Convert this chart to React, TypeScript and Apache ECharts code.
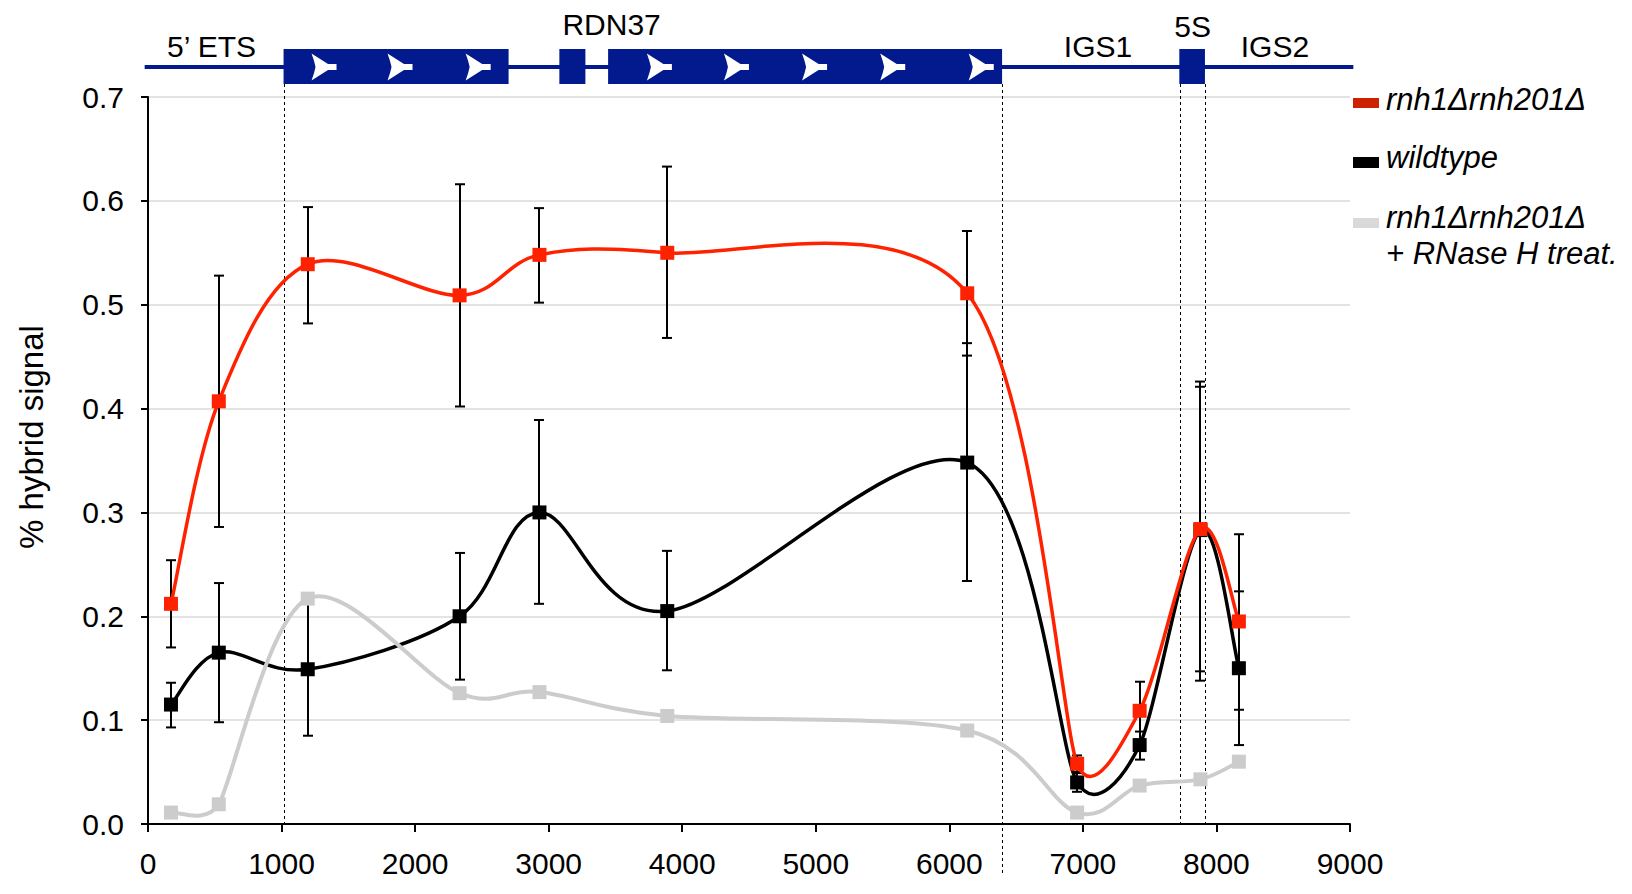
import React, { useEffect, useRef } from 'react';
import * as echarts from 'echarts';

// ---------- data ----------
const positions = [172, 530, 1196, 2333, 2931, 3888, 6134, 6957, 7425, 7880, 8168];

const mutant = [0.212, 0.407, 0.539, 0.509, 0.548, 0.550, 0.511, 0.058, 0.109, 0.284, 0.195];
const mutantLow = [0.170, 0.286, 0.482, 0.402, 0.502, 0.468, 0.451, 0.050, 0.081, 0.147, 0.110];
const mutantHigh = [0.254, 0.528, 0.594, 0.616, 0.593, 0.633, 0.571, 0.066, 0.137, 0.421, 0.224];

const wildtype = [0.115, 0.165, 0.149, 0.200, 0.300, 0.205, 0.348, 0.040, 0.076, 0.283, 0.150];
const wildtypeLow = [0.093, 0.098, 0.085, 0.139, 0.212, 0.148, 0.234, 0.031, 0.062, 0.138, 0.076];
const wildtypeHigh = [0.136, 0.232, 0.213, 0.261, 0.389, 0.263, 0.463, 0.049, 0.089, 0.426, 0.279];

const rnaseTreated = [0.011, 0.019, 0.217, 0.126, 0.127, 0.104, 0.090, 0.011, 0.037, 0.043, 0.060];

const seriesNames = ['rnh1Δrnh201Δ', 'wildtype', 'rnh1Δrnh201Δ', '+ RNase H treat.'];

const xTicks = { min: 0, max: 9000, interval: 1000 };
const yTicks = { min: 0, max: 0.7, interval: 0.1 };

// gene map (bp coordinates)
const backboneRange = [-25, 9025];
const geneBoxes = [
  [1015, 2700],
  [3080, 3275],
  [3445, 6395],
  [7722, 7914],
];
const arrowPositions = [1318, 1887, 2472, 3829, 4406, 4991, 5576, 6239];
const featureLabels = ['5’ ETS', 'RDN37', 'IGS1', '5S', 'IGS2'];
const featureLabelX = [476, 3471, 7113, 7822, 8438];
const boundaryX = [1015, 6395, 7725, 7912];

// ---------- styles ----------
const FONT = '"Liberation Sans", Arial, Helvetica, sans-serif';
const BLUE = '#021a8e';
const RED = '#ff2200';
const GRAY = '#cccccc';
const labelOffsets = [-51, -73, -51, -71, -51];
const boundaryExtend = [0, 50, 0, 0];
const arrowShape = [
  [-12.5, -13.5],
  [4, -3],
  [12.5, -3],
  [12.5, 3],
  [4, 3],
  [-12.5, 13.5],
  [-10, 6],
  [-8.5, 0],
  [-10, -6],
];

const toPairs = (ys: number[]) => positions.map((x, i) => [x, ys[i]]);
const toBars = (lo: number[], hi: number[]) => positions.map((x, i) => [x, lo[i], hi[i]]);

const errorBarRender = (params: any, api: any) => {
  const x = api.value(0);
  const lo = api.coord([x, api.value(1)]);
  const hi = api.coord([x, api.value(2)]);
  const cx = Math.round(lo[0]);
  const cap = 5;
  const st = { stroke: '#000', lineWidth: 2 };
  return {
    type: 'group',
    children: [
      { type: 'line', shape: { x1: cx, y1: lo[1], x2: cx, y2: hi[1] }, style: st },
      { type: 'line', shape: { x1: cx - cap, y1: lo[1], x2: cx + cap, y2: lo[1] }, style: st },
      { type: 'line', shape: { x1: cx - cap, y1: hi[1], x2: cx + cap, y2: hi[1] }, style: st },
    ],
  };
};

const dist = (a: number[], b: number[]) => Math.hypot(a[0] - b[0], a[1] - b[1]);

// spreadsheet-style smoothed segment, drawn through the axis scales
const makeSmoothRender = (ys: number[], color: string, width: number) => (params: any, api: any) => {
  const i = params.dataIndex;
  const n = positions.length;
  if (i >= n - 1) return null;
  const pts = positions.map((x, k) => api.coord([x, ys[k]]));
  const tangent = (k: number) => {
    const a = pts[Math.max(0, k - 1)];
    const b = pts[Math.min(n - 1, k + 1)];
    const d02 = dist(a, b);
    if (d02 === 0) return [0, 0];
    let f = 1 / 6;
    if (k > 0) f = Math.min(f, dist(pts[k - 1], pts[k]) / (2 * d02));
    if (k < n - 1) f = Math.min(f, dist(pts[k], pts[k + 1]) / (2 * d02));
    return [(b[0] - a[0]) * f, (b[1] - a[1]) * f];
  };
  const p1 = pts[i];
  const p2 = pts[i + 1];
  const t1 = tangent(i);
  const t2 = tangent(i + 1);
  return {
    type: 'bezierCurve',
    shape: {
      x1: p1[0],
      y1: p1[1],
      cpx1: p1[0] + t1[0],
      cpy1: p1[1] + t1[1],
      cpx2: p2[0] - t2[0],
      cpy2: p2[1] - t2[1],
      x2: p2[0],
      y2: p2[1],
    },
    style: { stroke: color, lineWidth: width, fill: 'none', lineCap: 'round' },
  };
};

const geneMapRender = (params: any, api: any) => {
  const top = api.coord([0, yTicks.max])[1];
  const axisY = api.coord([0, 0])[1];
  const lineY = top - 30;
  const boxTop = top - 48;
  const boxBottom = top - 13;
  const px = (v: number) => api.coord([v, 0])[0];
  const children: any[] = [];
  boundaryX.forEach((b, i) => {
    const x = Math.round(px(b)) + 0.5;
    children.push({
      type: 'line',
      shape: { x1: x, y1: boxBottom, x2: x, y2: axisY + boundaryExtend[i] },
      style: { stroke: '#000', lineWidth: 1, lineDash: [3, 3] },
    });
  });
  children.push({
    type: 'line',
    shape: { x1: px(backboneRange[0]), y1: lineY, x2: px(backboneRange[1]), y2: lineY },
    style: { stroke: BLUE, lineWidth: 4 },
  });
  geneBoxes.forEach(([s, e]) => {
    const x0 = px(s);
    const x1 = px(e);
    children.push({
      type: 'rect',
      shape: { x: x0, y: boxTop, width: x1 - x0, height: boxBottom - boxTop },
      style: { fill: BLUE },
    });
  });
  arrowPositions.forEach((p) => {
    const cx = px(p);
    children.push({
      type: 'polygon',
      shape: { points: arrowShape.map(([dx, dy]) => [cx + dx, lineY + dy]) },
      style: { fill: '#ffffff' },
    });
  });
  featureLabels.forEach((t, i) => {
    children.push({
      type: 'text',
      x: px(featureLabelX[i]),
      y: top + labelOffsets[i],
      style: {
        text: t,
        fill: '#000',
        fontSize: 30,
        fontFamily: FONT,
        align: 'center',
        verticalAlign: 'middle',
      },
    });
  });
  return { type: 'group', children };
};

const curveSeries = (name: string, ys: number[], color: string, width: number, z: number) => [
  {
    type: 'custom',
    name: name + ' curve',
    z,
    data: toPairs(ys),
    encode: { x: 0, y: 1 },
    renderItem: makeSmoothRender(ys, color, width),
  },
  {
    type: 'scatter',
    name,
    z,
    data: toPairs(ys),
    symbol: 'rect',
    symbolSize: 14,
    itemStyle: { color, opacity: 1 },
  },
];

export default function App() {
  const ref = useRef<HTMLDivElement>(null);
  useEffect(() => {
    const chart = echarts.init(ref.current!, null, { renderer: 'svg' });
    const legendText = (x: number, y: number, text: string) => ({
      type: 'text',
      x,
      y,
      style: {
        text,
        fill: '#000',
        fontSize: 31,
        fontStyle: 'italic',
        fontFamily: FONT,
        align: 'left',
        verticalAlign: 'middle',
      },
    });
    chart.setOption({
      animation: false,
      backgroundColor: '#ffffff',
      grid: { left: 148, right: 282, top: 97, bottom: 70, containLabel: false },
      xAxis: {
        type: 'value',
        min: xTicks.min,
        max: xTicks.max,
        interval: xTicks.interval,
        axisLine: { onZero: false, lineStyle: { color: '#000', width: 2 } },
        axisTick: { show: true, length: 8, lineStyle: { color: '#000', width: 2 } },
        axisLabel: {
          color: '#000',
          fontSize: 30,
          fontFamily: FONT,
          margin: 24,
          formatter: (v: number) => String(v),
        },
        splitLine: { show: false },
      },
      yAxis: {
        type: 'value',
        min: yTicks.min,
        max: yTicks.max,
        interval: yTicks.interval,
        axisLine: { show: true, lineStyle: { color: '#000', width: 2 } },
        axisTick: { show: true, length: 7, lineStyle: { color: '#000', width: 2 } },
        axisLabel: {
          color: '#000',
          fontSize: 30,
          fontFamily: FONT,
          margin: 24,
          formatter: (v: number) => v.toFixed(1),
        },
        splitLine: { show: true, lineStyle: { color: '#e3e3e3', width: 2 } },
      },
      graphic: [
        {
          type: 'text',
          x: 31,
          y: 437,
          rotation: Math.PI / 2,
          style: {
            text: '% hybrid signal',
            fill: '#000',
            fontSize: 33,
            fontFamily: FONT,
            align: 'center',
            verticalAlign: 'middle',
          },
        },
        { type: 'rect', shape: { x: 1353, y: 98, width: 26, height: 10 }, style: { fill: '#cc2200' } },
        legendText(1386, 99, seriesNames[0]),
        { type: 'rect', shape: { x: 1353, y: 157, width: 26, height: 11 }, style: { fill: '#000' } },
        legendText(1386, 157, seriesNames[1]),
        { type: 'rect', shape: { x: 1353, y: 218, width: 26, height: 10 }, style: { fill: '#d9d9d9' } },
        legendText(1386, 217, seriesNames[2]),
        legendText(1386, 253, seriesNames[3]),
      ],
      series: [
        {
          type: 'custom',
          name: 'gene map',
          clip: false,
          silent: true,
          z: 1,
          data: [[0, 0]],
          renderItem: geneMapRender,
        },
        {
          type: 'custom',
          name: 'wildtype error',
          z: 2,
          data: toBars(wildtypeLow, wildtypeHigh),
          encode: { x: 0, y: [1, 2] },
          renderItem: errorBarRender,
        },
        {
          type: 'custom',
          name: 'mutant error',
          z: 2,
          data: toBars(mutantLow, mutantHigh),
          encode: { x: 0, y: [1, 2] },
          renderItem: errorBarRender,
        },
        ...curveSeries('wildtype', wildtype, '#000000', 3.5, 3),
        ...curveSeries('rnh1Δrnh201Δ + RNase H treat.', rnaseTreated, GRAY, 4, 4),
        ...curveSeries('rnh1Δrnh201Δ', mutant, RED, 3.5, 5),
      ],
    });
    return () => chart.dispose();
  }, []);
  return (
    <div
      ref={ref}
      style={{ position: 'absolute', left: 0, top: 0, width: 1632, height: 894 }}
    />
  );
}
